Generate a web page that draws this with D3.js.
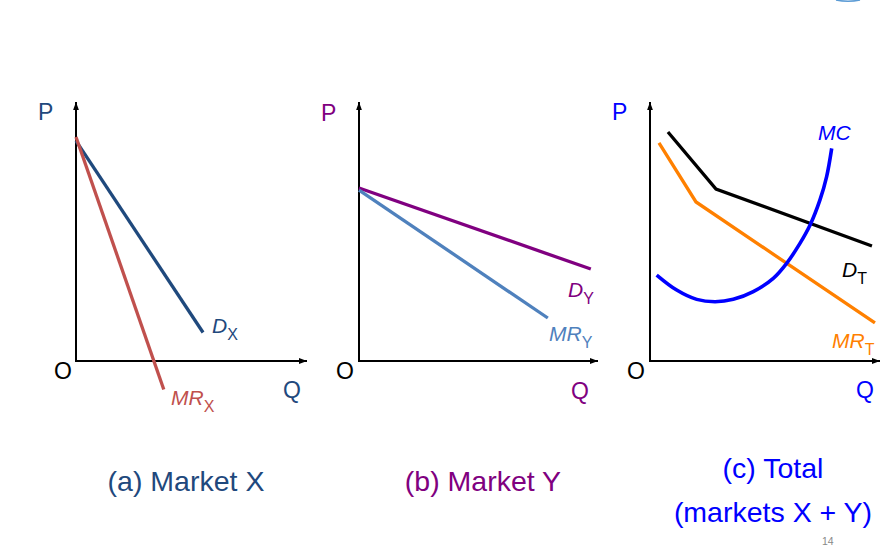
<!DOCTYPE html>
<html><head><meta charset="utf-8">
<script src="https://cdn.jsdelivr.net/npm/d3@7"></script>
<style>body{margin:0;background:#fff}svg{display:block}</style>
</head><body>
<svg id="c" width="896" height="548"></svg>
<script>
// ---- data (abstract units: Q 0..100, P 0..100) ----
const panelTitles = [["(a) Market X"], ["(b) Market Y"], ["(c) Total", "(markets X + Y)"]];
const demandX = [[0, 85], [55, 11]];
const mrX = [[0, 86.5], [38, -11]];
const demandY = [[0, 66.8], [97, 35.5]];
const mrY = [[0, 66], [79, 16.6]];
const demandT = [[7.8, 88.4], [28.7, 66.4], [96.5, 44.4]];
const mrT = [[3.9, 84.2], [20, 61.4], [97.8, 14.7]];
const mcT = [[2.9, 33.2], [11.6, 27.4], [20.3, 23.8], [28.3, 22.9], [36.2, 23.8], [44.9, 26.8],
             [53.6, 31.9], [59.4, 37.7], [65.2, 45.4], [69.6, 52.5], [73.9, 62.2], [76.8, 71.2], [79, 82.1]];

const svg = d3.select("#c");
const FONT = "'Liberation Sans', Arial, sans-serif";
const oy = 361, topY = 102;

svg.append("defs").append("marker").attr("id", "arr")
  .attr("viewBox", "0 -5 10 10").attr("refX", 10).attr("refY", 0)
  .attr("markerWidth", 10).attr("markerHeight", 8).attr("markerUnits", "userSpaceOnUse")
  .attr("orient", "auto").append("path").attr("d", "M0,-3.6L10,0L0,3.6Z").attr("fill", "#000");

const panels = [
  { ox: 76, xEnd: 307, axisCol: "#1F497D", titleCol: "#1F497D",
    P: [38, 120], O: [54, 379], Q: [283, 398], titleX: 186, titleY: [491],
    curves: [
      { data: demandX, col: "#1F497D", w: 3.3, label: "D", sub: "X", lx: 212, ly: 333 },
      { data: mrX, col: "#C0504D", w: 3.3, label: "MR", sub: "X", lx: 171, ly: 405 }
    ] },
  { ox: 359, xEnd: 598, axisCol: "#800080", titleCol: "#800080",
    P: [321, 121], O: [336, 379], Q: [571, 399], titleX: 483, titleY: [491],
    curves: [
      { data: demandY, col: "#800080", w: 3.3, label: "D", sub: "Y", lx: 568, ly: 297 },
      { data: mrY, col: "#4F81BD", w: 3.3, label: "MR", sub: "Y", lx: 549, ly: 341 }
    ] },
  { ox: 650, xEnd: 880, axisCol: "#0000FF", titleCol: "#0000FF",
    P: [612, 120], O: [627, 379], Q: [856, 398], titleX: 773, titleY: [478, 522],
    curves: [
      { data: demandT, col: "#000000", w: 3.3, label: "D", sub: "T", lx: 842, ly: 277 },
      { data: mrT, col: "#FF8000", w: 3.3, label: "MR", sub: "T", lx: 832, ly: 348 },
      { data: mcT, col: "#0000FF", w: 3.6, label: "MC", sub: "", lx: 818, ly: 140, smooth: true }
    ] }
];

panels.forEach((p, i) => {
  const x = d3.scaleLinear().domain([0, 100]).range([p.ox, p.xEnd]);
  const y = d3.scaleLinear().domain([0, 100]).range([oy, topY]);
  const g = svg.append("g");
  // axes
  g.append("line").attr("x1", x(0)).attr("y1", y(0)).attr("x2", x(0)).attr("y2", y(100))
    .attr("stroke", "#000").attr("stroke-width", 2).attr("marker-end", "url(#arr)");
  g.append("line").attr("x1", x(0) - 1).attr("y1", y(0)).attr("x2", x(100)).attr("y2", y(0))
    .attr("stroke", "#000").attr("stroke-width", 2).attr("marker-end", "url(#arr)");
  // curves
  p.curves.forEach(c => {
    const line = d3.line().x(d => x(d[0])).y(d => y(d[1]))
      .curve(c.smooth ? d3.curveCatmullRom : d3.curveLinear);
    g.append("path").attr("d", line(c.data)).attr("fill", "none")
      .attr("stroke", c.col).attr("stroke-width", c.w).attr("stroke-linejoin", "miter");
    const t = g.append("text").attr("x", c.lx).attr("y", c.ly)
      .attr("font-family", FONT).attr("font-size", 21).attr("fill", c.col);
    t.append("tspan").attr("font-style", "italic").text(c.label);
    if (c.sub) t.append("tspan").attr("font-size", 16).attr("dy", 7).text(c.sub);
  });
  // axis letters
  g.append("text").attr("x", p.P[0]).attr("y", p.P[1]).attr("font-family", FONT)
    .attr("font-size", 23).attr("fill", p.axisCol).text("P");
  g.append("text").attr("x", p.O[0]).attr("y", p.O[1]).attr("font-family", FONT)
    .attr("font-size", 23).attr("fill", "#000").text("O");
  g.append("text").attr("x", p.Q[0]).attr("y", p.Q[1]).attr("font-family", FONT)
    .attr("font-size", 23).attr("fill", p.axisCol).text("Q");
  // titles
  panelTitles[i].forEach((tt, k) => {
    g.append("text").attr("x", p.titleX).attr("y", p.titleY[k]).attr("text-anchor", "middle")
      .attr("font-family", FONT).attr("font-size", 28.5).attr("fill", p.titleCol).text(tt);
  });
});

// page number and decorative arc edge at top right
svg.append("text").attr("x", 822).attr("y", 545).attr("font-family", FONT)
  .attr("font-size", 10.5).attr("fill", "#888").text("14");
svg.append("path").attr("d", "M836,0 Q848,2.5 860,0").attr("fill", "none")
  .attr("stroke", "#5B9BD5").attr("stroke-width", 1.5);
</script>
</body></html>
